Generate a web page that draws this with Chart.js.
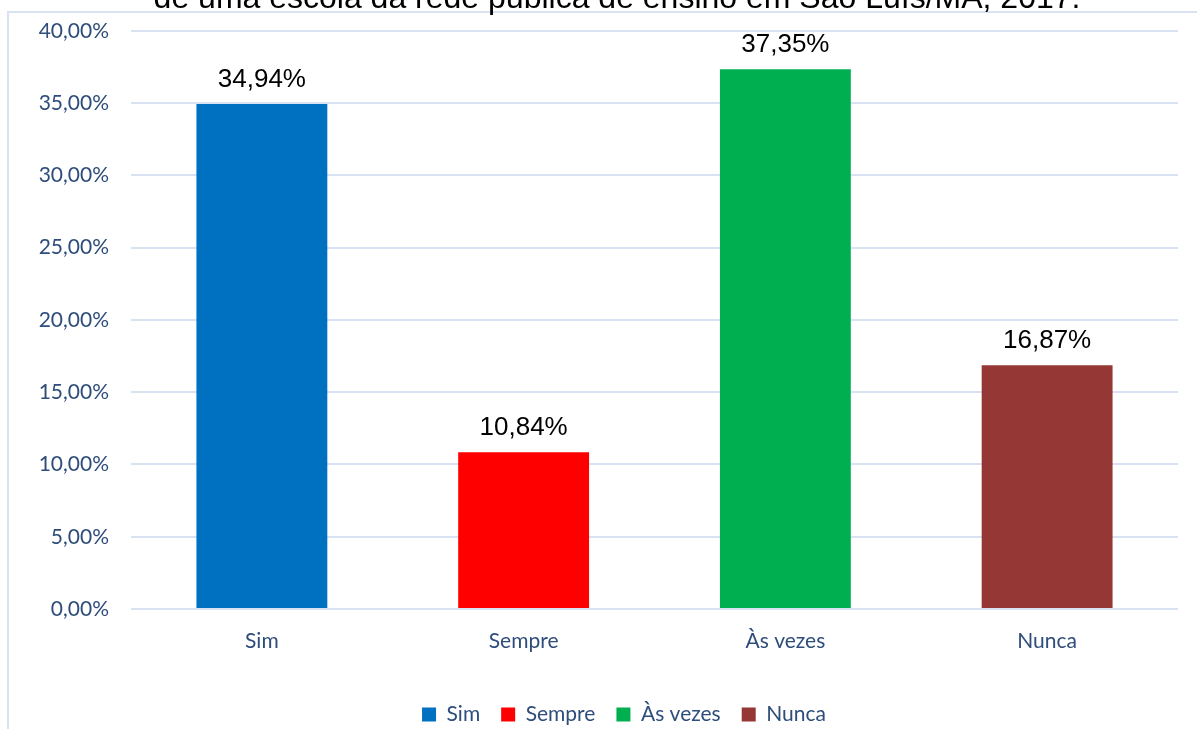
<!DOCTYPE html>
<html>
<head>
<meta charset="utf-8">
<script src="https://cdn.jsdelivr.net/npm/chart.js@4"></script>
<style>
    body { margin: 0; background: #fff; }
    #wrap { width: 1197px; height: 729px; position: relative; }
</style>
</head>
<body>
<div id="wrap"><canvas id="grafico" width="1197" height="729"></canvas></div>
<script>
const categorias = ["Sim", "Sempre", "Às vezes", "Nunca"];
const percentuais = [34.94, 10.84, 37.35, 16.87];
const cores = ["#0070C0", "#FF0000", "#00B050", "#953735"];
const titulo = "de uma escola da rede pública de ensino em São Luís/MA, 2017.";

const azulTexto = "#2E4D7B";
const corGrade = "#D9E2F3";

const fmt = (v) => v.toFixed(2).replace(".", ",") + "%";

// moldura + titulo cortado no topo
const moldura = {
    id: "moldura",
    beforeDraw(chart) {
        const ctx = chart.ctx;
        ctx.save();
        ctx.strokeStyle = corGrade;
        ctx.lineWidth = 2;
        ctx.beginPath();
        ctx.moveTo(8, 729);
        ctx.lineTo(8, 12);
        ctx.lineTo(1197, 12);
        ctx.stroke();
        ctx.fillStyle = "#000";
        ctx.font = "32px 'Liberation Sans', Arial, sans-serif";
        ctx.textAlign = "center";
        ctx.textBaseline = "alphabetic";
        ctx.fillText(titulo, 617, 8);
        ctx.restore();
    }
};

const rotulos = {
    id: "rotulos",
    afterDatasetsDraw(chart) {
        const ctx = chart.ctx;
        const meta = chart.getDatasetMeta(0);
        ctx.save();
        ctx.fillStyle = "#000";
        ctx.font = "26px 'Liberation Sans', Arial, sans-serif";
        ctx.textAlign = "center";
        ctx.textBaseline = "alphabetic";
        meta.data.forEach((bar, i) => {
            ctx.fillText(fmt(percentuais[i]), bar.x, bar.y - 17);
        });
        ctx.restore();
    }
};

// legenda um pouco deslocada para a direita, como no original
const moveLegenda = {
    id: "moveLegenda",
    afterLayout(chart) {
        chart.legend.left += 30;
        chart.legend.right += 30;
    }
};

const ctx = document.getElementById("grafico").getContext("2d");

new Chart(ctx, {
    type: "bar",
    data: {
        labels: categorias,
        datasets: [
            {
                label: "Percentual",
                data: percentuais,
                backgroundColor: cores,
                borderWidth: 0,
                barPercentage: 0.5,
                categoryPercentage: 1,
            },
        ],
    },
    options: {
        responsive: false,
        animation: false,
        layout: { padding: { left: 10, right: 19, top: 13, bottom: -6 } },
        plugins: {
            title: { display: false },
            tooltip: { enabled: false },
            legend: {
                position: "bottom",
                labels: {
                    color: azulTexto,
                    font: { family: "Lato", size: 21 },
                    boxWidth: 14,
                    boxHeight: 14,
                    padding: 21,
                    generateLabels: () => categorias.map((c, i) => ({
                        text: c,
                        fillStyle: cores[i],
                        strokeStyle: cores[i],
                        lineWidth: 0,
                        fontColor: azulTexto,
                        index: i,
                    })),
                },
            },
        },
        scales: {
            x: {
                grid: { display: false },
                border: { display: false },
                ticks: {
                    color: azulTexto,
                    font: { family: "Lato", size: 21 },
                    padding: 12,
                },
                afterFit: (scale) => { scale.height = 74; },
            },
            y: {
                min: 0,
                max: 40,
                ticks: {
                    stepSize: 5,
                    color: azulTexto,
                    font: { family: "Lato", size: 21, lineHeight: 0.85 },
                    padding: 22,
                    callback: (v) => fmt(v),
                },
                grid: { color: corGrade, lineWidth: 2, drawTicks: false },
                border: { display: false },
                afterFit: (scale) => { scale.width = 121; },
            },
        },
    },
    plugins: [moldura, rotulos, moveLegenda],
});
</script>
</body>
</html>
